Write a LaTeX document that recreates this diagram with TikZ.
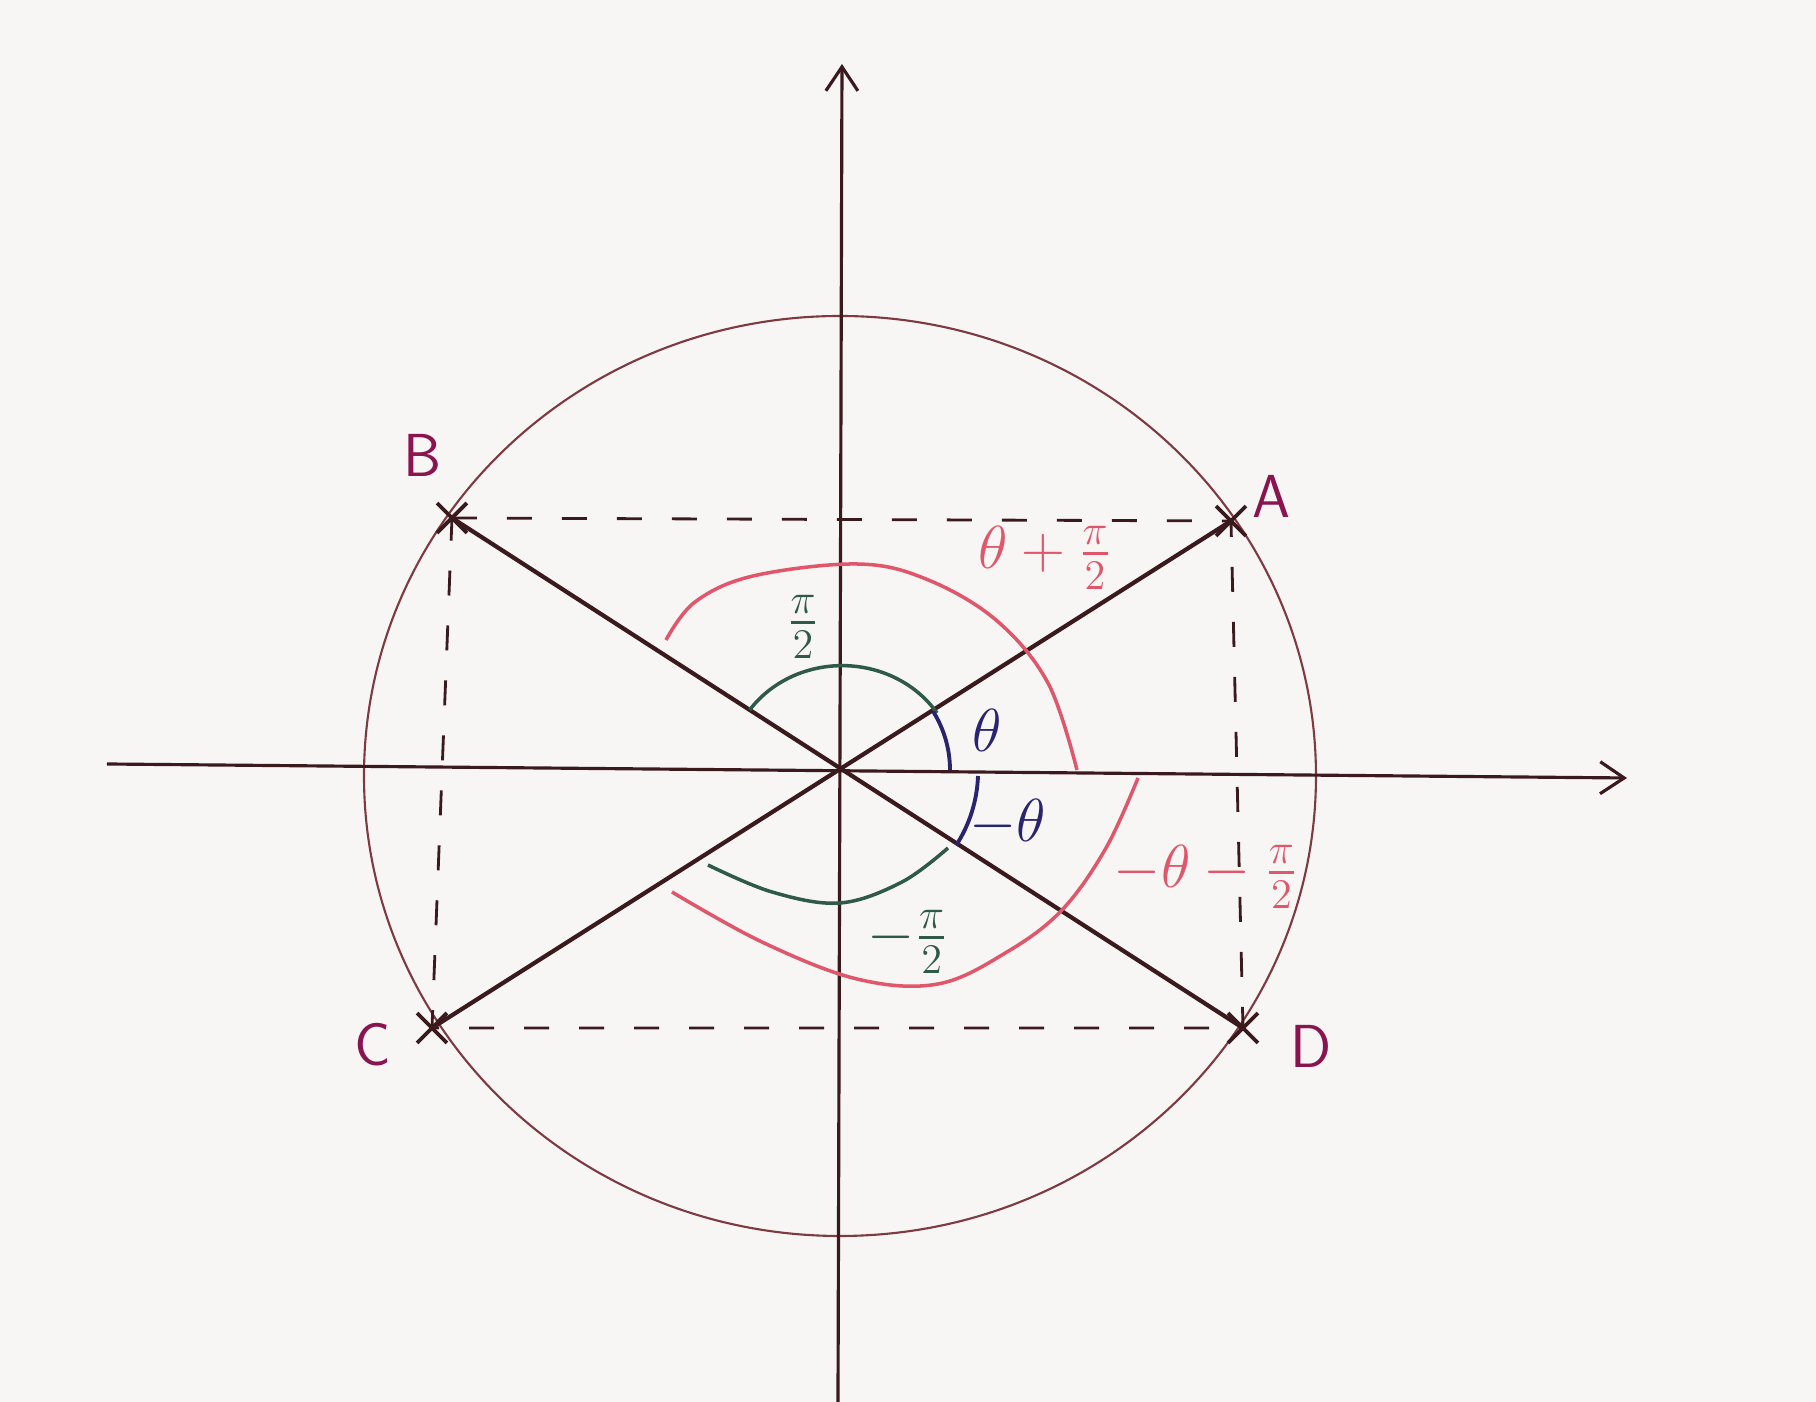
\documentclass[tikz,border=0pt]{standalone}
\usepackage{amsmath}
\usetikzlibrary{arrows.meta,shapes.misc}
\definecolor{Ink}{HTML}{3B1A1E}
\definecolor{Plum}{HTML}{8A1450}
\definecolor{Rose}{HTML}{E0566A}
\definecolor{Pine}{HTML}{2F5A48}
\definecolor{Indigo}{HTML}{2A2470}
\definecolor{Rim}{HTML}{7E3A40}
\definecolor{Paper}{HTML}{F7F6F4}
\begin{document}
\begin{tikzpicture}[x=0.1mm,y=0.1mm,>={Straight Barb[length=2.4mm,width=3.2mm]},
    cross/.style={cross out,draw=Ink,line width=1.1pt,minimum size=2.6mm,inner sep=0pt},
    lbl/.style={text=Plum,font=\sffamily\LARGE}]
    \fill[Paper] (-842,-632) rectangle (974,770);
    \useasboundingbox (-842,-632) rectangle (974,770);
    \draw[Rim,line width=0.6pt] (-2,-6) ellipse [x radius=476,y radius=460];
    \coordinate (xl) at (-735,6); \coordinate (xr) at (785,-8);
    \coordinate (yb) at (-4,-632); \coordinate (yt) at (0,706);
    \draw[->,Ink,line width=0.9pt] (xl) -- (xr);
    \draw[->,Ink,line width=0.9pt] (yb) -- (yt);
    \coordinate (A) at (389,249); \coordinate (B) at (-390,252);
    \coordinate (C) at (-410,-258); \coordinate (D) at (401,-258);
    \draw[Ink,line width=0.8pt,dash pattern=on 2.5mm off 3mm] (B) -- (A) -- (D) -- (C) -- cycle;
    \draw[Ink,line width=1.2pt] (B) -- (D);
    \draw[Ink,line width=1.2pt] (C) -- (A);
    \foreach \p in {A,B,C,D} \node[cross] (x\p) at (\p) {};
    \node[lbl] (labA) at (429,274) {A};
    \node[lbl] (labB) at (-419,315) {B};
    \node[lbl] (labC) at (-469,-275) {C};
    \node[lbl] (labD) at (469,-276) {D};
    % angle marks
    \draw[Rose,line width=1pt] plot[smooth,tension=0.6] coordinates {(-176,130) (-147,168) (-89,194) (15,206) (84,191) (154,150) (206,87) (235,0)};
    \draw[Rose,line width=1pt] plot[smooth,tension=0.6] coordinates {(-170,-122) (-80,-172) (15,-209) (96,-214) (165,-182) (220,-140) (264,-78) (296,-8)};
    \draw[Pine,line width=1pt] (95,57) arc[start angle=33,end angle=145,x radius=113,y radius=104];
    \draw[Pine,line width=1pt] plot[smooth,tension=0.6] coordinates {(-134,-95) (-70,-122) (-2,-133) (60,-112) (106,-78)};
    \draw[Indigo,line width=1.1pt] (108,0) arc[start angle=0,end angle=32,radius=110];
    \draw[Indigo,line width=1.1pt] (136,-6) arc[start angle=-2,end angle=-33,radius=136];
    \node[text=Indigo,font=\LARGE] (th) at (145,40) {$\theta$};
    \node[text=Indigo,font=\LARGE] (mth) at (166,-53) {$-\theta$};
    \node[text=Pine,font=\LARGE] (hp) at (-39,143) {$\frac{\pi}{2}$};
    \node[text=Pine,font=\LARGE] (mhp) at (66,-172) {$-\frac{\pi}{2}$};
    \node[text=Rose,font=\LARGE] (tp) at (203,212) {$\theta+\frac{\pi}{2}$};
    \node[text=Rose,font=\LARGE] (mtp) at (364,-107) {$-\theta-\frac{\pi}{2}$};
\end{tikzpicture}
\end{document}
